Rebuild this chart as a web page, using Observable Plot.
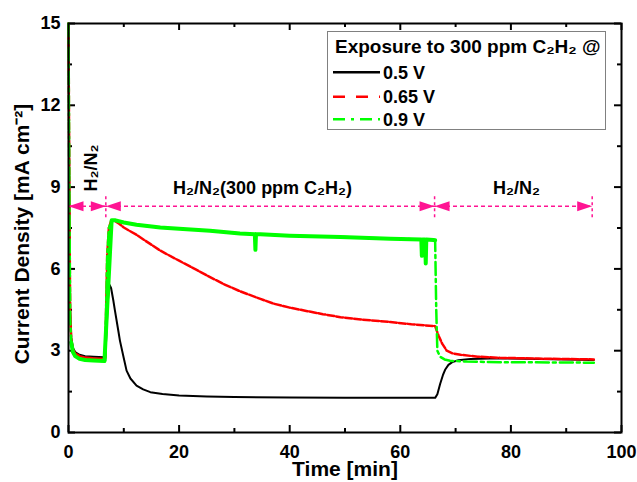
<!DOCTYPE html>
<html><head><meta charset="utf-8">
<script src="https://cdn.jsdelivr.net/npm/d3@7"></script>
<script src="https://cdn.jsdelivr.net/npm/@observablehq/plot@0.6"></script>
<style>
body{margin:0;background:#fff;}
#wrap{position:relative;width:637px;height:482px;font-family:"Liberation Sans",Arial,sans-serif;}
#legend{position:absolute;left:327px;top:31px;}
</style></head><body><div id="wrap"></div>
<script>
// ---- data ----
const blackT = [0,0.15,0.3,0.5,0.8,1.2,2,3,4.5,6.5,6.65,6.9,7.1,7.4,7.7,8.1,8.4,9,9.3,10,10.5,11.2,12.3,13.5,14.8,17,20,25,30,40,50,60,66.3,66.7,67.2,67.7,68.1,68.7,69.4,70.5,72.7,78,85,95];
const blackV = [15,9,4.5,3.45,3.1,2.95,2.85,2.8,2.78,2.76,2.76,3.8,4.8,5.42,5.3,4.85,4.47,3.74,3.37,2.72,2.27,1.98,1.72,1.58,1.48,1.41,1.36,1.32,1.3,1.28,1.27,1.27,1.27,1.4,1.78,2.1,2.3,2.48,2.58,2.65,2.7,2.72,2.7,2.66];
const redT = [0,0.15,0.3,0.5,0.8,1.2,2,3,4.5,6.5,6.65,6.8,7.0,7.3,7.7,8.2,9,10,11,12.3,14,16.6,20,23,25.6,28,31,34.7,37.2,40,43.2,46,49.2,53,58.2,62,66.3,66.9,67.6,68.4,69.5,70.9,74,78,85,95];
const redV = [15,9,4.4,3.4,3.05,2.9,2.8,2.75,2.72,2.7,2.73,4.5,6.5,7.5,7.75,7.78,7.68,7.52,7.4,7.25,7.02,6.67,6.3,5.98,5.7,5.45,5.18,4.9,4.72,4.58,4.45,4.34,4.23,4.14,4.05,3.97,3.9,3.56,3.25,3.0,2.9,2.85,2.78,2.74,2.71,2.68];
const greenT = [0,0.15,0.3,0.5,0.8,1.2,2,3,4.5,6.5,6.65,6.8,7.0,7.3,7.8,8.5,10,12.3,16.6,20,25.6,31,33.7,33.8,33.9,34.7,40,49.2,58.2,63.8,63.9,64.0,64.5,64.6,64.7,66.0,66.3,66.5,66.7,67.2,68,69,72,78,95];
const greenV = [15,9,4.2,3.3,2.95,2.8,2.7,2.66,2.64,2.62,2.65,4.5,6.5,7.5,7.78,7.78,7.7,7.62,7.52,7.47,7.4,7.3,7.27,6.7,7.27,7.27,7.22,7.17,7.11,7.08,6.48,7.08,7.08,6.2,7.08,7.06,7.05,4.5,3.0,2.78,2.68,2.63,2.6,2.58,2.56];
const seriesNames = ["0.5 V","0.65 V","0.9 V"];
const seriesColors = ["#000000","#ff0000","#00ff00"];
const xMajor = [0,20,40,60,80,100];
const xMinor = [10,30,50,70,90];
const yMajor = [0,3,6,9,12,15];
const yMinor = [1.5,4.5,7.5,10.5,13.5];
// annotation: gas-phase periods
const periodBounds = [0,6.75,66.2,94.7];
const periodY = 8.3;
const periodLabels = ["H₂/N₂","H₂/N₂(300 ppm C₂H₂)","H₂/N₂"];
const periodLabelX = [4.1,35.1,81];
const periodLabelY = [9.7,8.95,8.95];
const legendTitle = "Exposure to 300 ppm C₂H₂ @";
const xLabel = "Time [min]";
const yLabel = "Current Density [mA cm⁻²]";

// ---- build ----
const W = 637, H = 482, mL = 68, mR = 16, mT = 23, mB = 50;
const pw = W - mL - mR, ph = H - mT - mB;
const mag = "#ff1493";
const font = "Liberation Sans, Arial, sans-serif";
const toRows = (T, V) => T.map((t, i) => ({t, v: V[i]}));
const black = toRows(blackT, blackV), red = toRows(redT, redV), green = toRows(greenT, greenV);
const greenBand = green.filter(d => (d.t >= 0.5 && d.t <= 6.5) || (d.t >= 7.8 && d.t <= 66.3));

const heads = [];
for (let i = 0; i < periodBounds.length - 1; i++) {
  heads.push({x: periodBounds[i], y: periodY, rot: 180});
  heads.push({x: periodBounds[i+1], y: periodY, rot: 0});
}
const arrowSym = {draw(ctx) { ctx.moveTo(0,0); ctx.lineTo(-15,-5); ctx.lineTo(-15,5); ctx.closePath(); }};
const labelRows = periodLabels.map((s, i) => ({s, x: periodLabelX[i], y: periodLabelY[i], rot: i === 0 ? -90 : 0}));

const tf = {fontSize: 18, fontFamily: font, fill: "black"};
const plot = Plot.plot({
  width: W, height: H, marginLeft: mL, marginRight: mR, marginTop: mT, marginBottom: mB,
  style: {fontFamily: font, fontWeight: "bold", fontSize: "18px", background: "white", overflow: "visible"},
  x: {domain: [0, 100]},
  y: {domain: [0, 15]},
  marks: [
    Plot.axisX({ticks: xMajor, tickSize: 0, tickPadding: 13, label: null, ...tf}),
    Plot.axisY({ticks: yMajor, tickSize: 0, tickPadding: 8, label: null, ...tf}),
    // inner ticks on all four sides
    Plot.tickX(xMajor, {x: d => d, insetTop: ph - 7, stroke: "black", strokeWidth: 2}),
    Plot.tickX(xMajor, {x: d => d, insetBottom: ph - 7, stroke: "black", strokeWidth: 2}),
    Plot.tickX(xMinor, {x: d => d, insetTop: ph - 4, stroke: "black", strokeWidth: 2}),
    Plot.tickX(xMinor, {x: d => d, insetBottom: ph - 4, stroke: "black", strokeWidth: 2}),
    Plot.tickY(yMajor, {y: d => d, insetRight: pw - 7, stroke: "black", strokeWidth: 2}),
    Plot.tickY(yMajor, {y: d => d, insetLeft: pw - 7, stroke: "black", strokeWidth: 2}),
    Plot.tickY(yMinor, {y: d => d, insetRight: pw - 4, stroke: "black", strokeWidth: 2}),
    Plot.tickY(yMinor, {y: d => d, insetLeft: pw - 4, stroke: "black", strokeWidth: 2}),
    // data
    Plot.line(black, {x: "t", y: "v", stroke: seriesColors[0], strokeWidth: 2}),
    Plot.line(red, {x: "t", y: "v", stroke: seriesColors[1], strokeWidth: 2.5, strokeDasharray: "7,2"}),
    Plot.line(green, {x: "t", y: "v", stroke: seriesColors[2], strokeWidth: 2.5, strokeDasharray: "13,4,3,4"}),
    Plot.line(greenBand, {x: "t", y: "v", stroke: seriesColors[2], strokeWidth: 4}),
    // period annotations
    Plot.ruleY([periodY], {x1: periodBounds[0], x2: periodBounds[3], stroke: mag, strokeWidth: 1.5, strokeDasharray: "4,3"}),
    Plot.ruleX(periodBounds.slice(1), {x: d => d, y1: periodY - 0.42, y2: periodY + 0.42, stroke: mag, strokeWidth: 1.5, strokeDasharray: "3,3"}),
    Plot.dot(heads, {x: "x", y: "y", rotate: "rot", symbol: arrowSym, fill: mag, stroke: "none"}),
    Plot.text(labelRows, {x: "x", y: "y", text: "s", rotate: "rot", ...tf}),
    // axis titles
    Plot.text([xLabel], {frameAnchor: "bottom", lineAnchor: "middle", textAnchor: "middle", dy: 37, text: d => d, fontSize: 21, fontFamily: font}),
    Plot.text([yLabel], {frameAnchor: "left", lineAnchor: "middle", textAnchor: "middle", dx: -46, dy: 6, rotate: -90, text: d => d, fontSize: 21, fontFamily: font}),
    Plot.frame({stroke: "black", strokeWidth: 2})
  ]
});
const wrap = document.getElementById("wrap");
wrap.appendChild(plot);

// legend box
const dashes = [null, "12,11", "12,6,3,6"];
const rowsY = [41.3, 65.7, 88.3];
let lg = `<svg id="legend" width="280" height="100" xmlns="http://www.w3.org/2000/svg" font-family="${font}" font-weight="bold">`;
lg += `<rect x="0.5" y="0.5" width="278" height="98" fill="white" stroke="#808080" stroke-width="1"/>`;
lg += `<text x="8" y="22" font-size="19">${legendTitle}</text>`;
seriesNames.forEach((n, i) => {
  lg += `<line x1="6" x2="53" y1="${rowsY[i]}" y2="${rowsY[i]}" stroke="${seriesColors[i]}" stroke-width="2.5" ${dashes[i] ? `stroke-dasharray="${dashes[i]}"` : ""}/>`;
  lg += `<text x="56" y="${rowsY[i] + 6.5}" font-size="18">${n}</text>`;
});
lg += `</svg>`;
wrap.insertAdjacentHTML("beforeend", lg);
</script></body></html>
